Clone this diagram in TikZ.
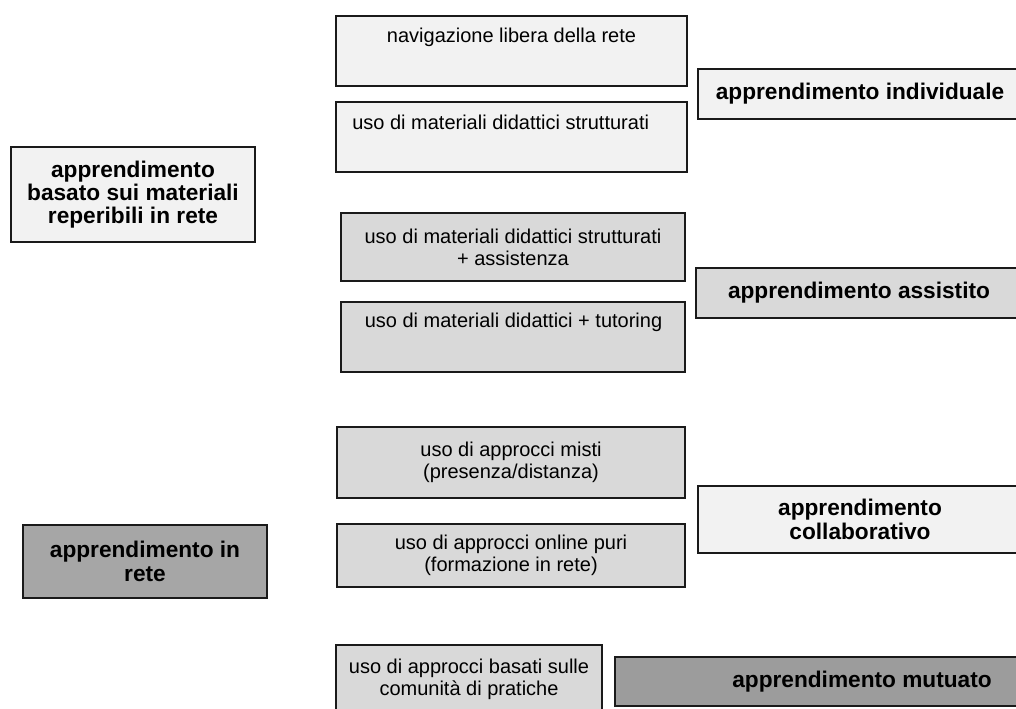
\documentclass[tikz,border=0pt]{standalone}
\usepackage{fontspec}
\setmainfont{Liberation Sans}
\definecolor{boxlight}{HTML}{F2F2F2}
\definecolor{boxmid}{HTML}{D9D9D9}
\definecolor{boxdark}{HTML}{A6A6A6}
\definecolor{boxdarker}{HTML}{9C9C9C}
\definecolor{edge}{HTML}{1A1A1A}
\begin{document}
\begin{tikzpicture}[x=0.75pt,y=-0.75pt,
  box/.style={draw=edge, line width=1.3pt, inner sep=0pt, outer sep=0pt},
  lt/.style={fill=boxlight}, md/.style={fill=boxmid},
  dk/.style={fill=boxdark}, dkr/.style={fill=boxdarker},
  reg/.style={font=\fontsize{15}{16.5}\selectfont, align=center, inner sep=0pt},
  bld/.style={font=\fontsize{17}{17.5}\selectfont\bfseries, align=center, inner sep=0pt}]
\useasboundingbox (0,0) rectangle (1016,708);
\clip (0,0) rectangle (1016,708);
% left
\node[box,lt,bld,minimum width=183pt,minimum height=71.25pt] (l1) at (133,194.5)
  {apprendimento\\basato sui materiali\\reperibili in rete};
\node[box,dk,bld,minimum width=183pt,minimum height=54.75pt] (l2) at (145,561.5)
  {apprendimento in\\rete};
% middle
\node[box,lt,minimum width=263.25pt,minimum height=52.5pt] (m1) at (511.5,51) {};
\node[reg] (m1t) at (511.5,37) {navigazione libera della rete};
\node[box,lt,minimum width=263.25pt,minimum height=52.5pt] (m2) at (511.5,137) {};
\node[reg,anchor=west] (m2t) at (352,122) {uso di materiali didattici strutturati};
\node[box,md,reg,minimum width=258pt,minimum height=51pt] (m3) at (513,247)
  {uso di materiali didattici strutturati\\+ assistenza};
\node[box,md,minimum width=258pt,minimum height=52.5pt] (m4) at (513,337) {};
\node[reg] (m4t) at (513.5,322) {uso di materiali didattici + tutoring};
\node[box,md,reg,minimum width=261pt,minimum height=53.25pt] (m5) at (511,462.5)
  {uso di approcci misti\\(presenza/distanza)};
\node[box,md,reg,minimum width=261pt,minimum height=47.25pt] (m6) at (511,555.5)
  {uso di approcci online puri\\(formazione in rete)};
\node[box,md,reg,minimum width=199.5pt,minimum height=51.75pt] (m7) at (469,679.5)
  {uso di approcci basati sulle\\comunità di pratiche};
% right
\node[box,lt,bld,minimum width=243pt,minimum height=37.5pt] (r1) at (860,94)
  {apprendimento individuale};
\node[box,md,bld,minimum width=244.5pt,minimum height=37.5pt] (r2) at (859,293)
  {apprendimento assistito};
\node[box,lt,bld,minimum width=243pt,minimum height=50.25pt] (r3) at (860,519.5)
  {apprendimento\\collaborativo};
\node[box,dkr,bld,minimum width=370.5pt,minimum height=36.75pt] (r4) at (862,681.5)
  {apprendimento mutuato};
\end{tikzpicture}
\end{document}
